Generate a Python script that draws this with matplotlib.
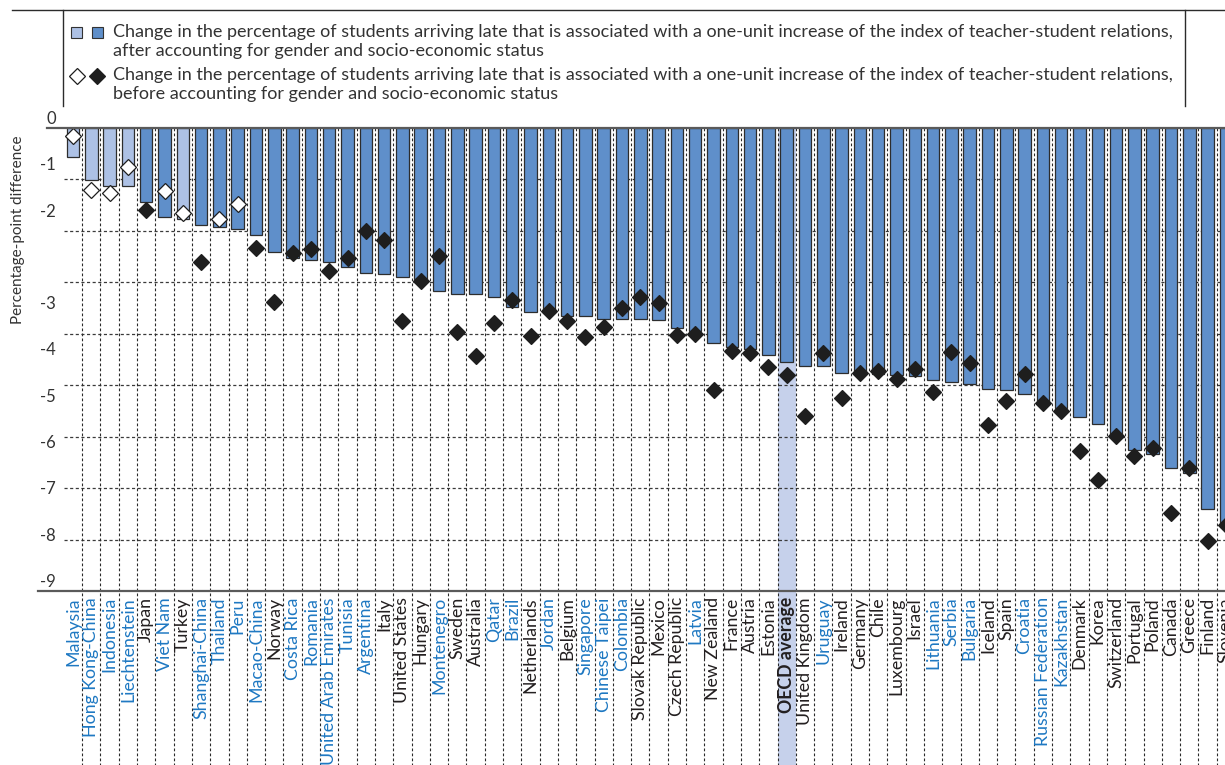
import matplotlib
matplotlib.use("Agg")
import matplotlib.pyplot as plt
import matplotlib.transforms as mtransforms
from matplotlib.lines import Line2D
from matplotlib.patches import Rectangle

plt.rcParams["font.family"] = ["Lato", "DejaVu Sans"]

countries = [
    "Malaysia", "Hong Kong-China", "Indonesia", "Liechtenstein", "Japan", "Viet Nam",
    "Turkey", "Shanghai-China", "Thailand", "Peru", "Macao-China", "Norway",
    "Costa Rica", "Romania", "United Arab Emirates", "Tunisia", "Argentina", "Italy",
    "United States", "Hungary", "Montenegro", "Sweden", "Australia", "Qatar", "Brazil",
    "Netherlands", "Jordan", "Belgium", "Singapore", "Chinese Taipei", "Colombia",
    "Slovak Republic", "Mexico", "Czech Republic", "Latvia", "New Zealand", "France",
    "Austria", "Estonia", "OECD average", "United Kingdom", "Uruguay", "Ireland",
    "Germany", "Chile", "Luxembourg", "Israel", "Lithuania", "Serbia", "Bulgaria",
    "Iceland", "Spain", "Croatia", "Russian Federation", "Kazakhstan", "Denmark",
    "Korea", "Switzerland", "Portugal", "Poland", "Canada", "Greece", "Finland",
    "Slovenia",
]

# Percentage-point change, after accounting for gender and socio-economic status
after_values = [
    -0.57, -1.02, -1.13, -1.13, -1.43, -1.73, -1.77, -1.88, -1.92, -1.96, -2.08, -2.41,
    -2.53, -2.56, -2.61, -2.70, -2.82, -2.84, -2.90, -2.93, -3.17, -3.23, -3.23, -3.29,
    -3.48, -3.58, -3.60, -3.65, -3.65, -3.71, -3.71, -3.71, -3.74, -3.89, -3.95, -4.18,
    -4.26, -4.29, -4.41, -4.54, -4.62, -4.63, -4.76, -4.78, -4.79, -4.81, -4.83, -4.89,
    -4.93, -4.97, -5.07, -5.10, -5.18, -5.30, -5.44, -5.61, -5.75, -5.97, -6.25, -6.34,
    -6.61, -6.70, -7.41, -7.75,
]

# Percentage-point change, before accounting for gender and socio-economic status
before_values = [
    -0.15, -1.20, -1.26, -0.76, -1.60, -1.23, -1.65, -2.61, -1.77, -1.47, -2.33, -3.38,
    -2.43, -2.36, -2.77, -2.53, -2.01, -2.17, -3.76, -2.98, -2.48, -3.97, -4.43, -3.79,
    -3.34, -4.05, -3.55, -3.76, -4.06, -3.86, -3.49, -3.29, -3.40, -4.03, -4.00, -5.09,
    -4.34, -4.37, -4.65, -4.80, -5.59, -4.37, -5.24, -4.76, -4.73, -4.88, -4.68, -5.14,
    -4.36, -4.56, -5.77, -5.30, -4.78, -5.35, -5.51, -6.27, -6.84, -5.98, -6.37, -6.22,
    -7.49, -6.60, -8.03, -7.72,
]

# Estimates that are not statistically significant (lighter / hollow marks)
not_significant_after = ["Malaysia", "Hong Kong-China", "Indonesia", "Liechtenstein", "Turkey"]
not_significant_before = ["Malaysia", "Hong Kong-China", "Indonesia", "Liechtenstein",
                          "Viet Nam", "Turkey", "Thailand", "Peru"]

partner_economies = [
    "Malaysia", "Hong Kong-China", "Indonesia", "Liechtenstein", "Viet Nam",
    "Shanghai-China", "Thailand", "Peru", "Macao-China", "Costa Rica", "Romania",
    "United Arab Emirates", "Tunisia", "Argentina", "Montenegro", "Qatar", "Brazil",
    "Jordan", "Singapore", "Chinese Taipei", "Colombia", "Latvia", "Uruguay",
    "Lithuania", "Serbia", "Bulgaria", "Croatia", "Russian Federation", "Kazakhstan",
]

y_tick_labels = ["0", "-1", "-2", "-3", "-4", "-5", "-6", "-7", "-8", "-9"]

legend_after = ("Change in the percentage of students arriving late that is associated with a "
                "one-unit increase of the index of teacher-student relations,\n"
                "after accounting for gender and socio-economic status")
legend_before = ("Change in the percentage of students arriving late that is associated with a "
                 "one-unit increase of the index of teacher-student relations,\n"
                 "before accounting for gender and socio-economic status")

# ---------------------------------------------------------------- styling
DARK_BAR = "#5F8FCA"
LIGHT_BAR = "#ADC1E5"
HIGHLIGHT = "#C6D1EB"
BLUE_TEXT = "#1E78C2"
BLACK_TEXT = "#231F20"
LINE = "#2B2B2B"

W, H = 1225, 765
fig = plt.figure(figsize=(W / 100, H / 100), dpi=100)


def fx(px):
    return px / W


def fy(py):
    return 1 - py / H


ax_left, ax_right, ax_top, ax_bottom = 38, 1225, 128, 591
ax = fig.add_axes([fx(ax_left), fy(ax_bottom), fx(ax_right - ax_left),
                   (ax_bottom - ax_top) / H])

slot = 18.3
first_center = 73
x_pos = list(range(len(countries)))
ax.set_xlim((ax_left - first_center) / slot, (ax_right - first_center) / slot)
ax.set_ylim(-9, 0)
ax.axis("off")

blend = mtransforms.blended_transform_factory(ax.transData, ax.transAxes)
bottom_frac = -(H - ax_bottom) / (ax_bottom - ax_top)

# OECD average highlight band, running through the label area
oecd_i = countries.index("OECD average")
ax.add_patch(Rectangle((oecd_i - 0.5, bottom_frac), 1.0, 1 - bottom_frac,
                       transform=blend, facecolor=HIGHLIGHT, edgecolor="none",
                       clip_on=False, zorder=0))

# horizontal dashed gridlines
for v in range(-8, 0):
    ax.plot([-0.5, len(countries) + 1], [v, v], color="#3a3a3a", lw=0.9,
            dashes=(2.5, 2), zorder=1)

# vertical dashed separators between countries
for i in range(len(countries) - 1):
    ax.plot([i + 0.5, i + 0.5], [1, bottom_frac], transform=blend, color="#2a2a2a",
            lw=0.8, dashes=(2.5, 2), clip_on=False, zorder=1)

# bars
bar_colors = [LIGHT_BAR if c in not_significant_after else DARK_BAR for c in countries]
ax.bar(x_pos, after_values, width=0.68, color=bar_colors, edgecolor="#2d2d2d",
       linewidth=0.9, zorder=3)

# diamonds
for i, c in enumerate(countries):
    hollow = c in not_significant_before
    ax.plot(i, before_values[i], marker="D", markersize=8.2,
            markerfacecolor="white" if hollow else "#1E1E1E",
            markeredgecolor="#1E1E1E", markeredgewidth=0.9, zorder=4, clip_on=False)

# top (zero) and bottom axis lines
ax.plot([-1.4, len(countries) + 1], [0, 0], color="#5a5a5a", lw=1.6, zorder=5,
        clip_on=False)
ax.plot([(ax_left - first_center) / slot, len(countries) + 1], [-9, -9],
        color="#5a5a5a", lw=1.6, zorder=5, clip_on=False)

# y tick labels, evenly stepped down the left margin
label_slots = [0, 1, 2, 4, 5, 6, 7, 8, 9, 10]
for lbl, s in zip(y_tick_labels, label_slots):
    ypx = 119 + 46.3 * s
    fig.text(fx(56), fy(ypx), lbl, ha="right", va="center", fontsize=12,
             color="#333333")

fig.text(fx(18), fy(230), "Percentage-point difference", rotation=90,
         ha="center", va="center", fontsize=11, color="#333333")

# country labels
for i, c in enumerate(countries):
    is_oecd = c == "OECD average"
    ax.text(i, -9.12, c, rotation=90, ha="center", va="top", fontsize=12.8,
            color=BLUE_TEXT if c in partner_economies else BLACK_TEXT,
            fontweight="bold" if is_oecd else "normal", clip_on=False, zorder=6)

# legend frame
fig.add_artist(Line2D([fx(12), fx(W)], [fy(10), fy(10)], color=LINE, lw=1.0))
fig.add_artist(Line2D([fx(63), fx(63)], [fy(10), fy(106)], color=LINE, lw=1.0))
fig.add_artist(Line2D([fx(1185), fx(1185)], [fy(10), fy(106)], color=LINE, lw=1.0))

# legend keys
sq = 11
for x0, col in ((71, LIGHT_BAR), (92, DARK_BAR)):
    fig.add_artist(Rectangle((fx(x0), fy(38)), sq / W, sq / H, facecolor=col,
                             edgecolor="#333333", lw=0.8))
for x0, face in ((77, "white"), (97, "#1E1E1E")):
    fig.add_artist(Line2D([fx(x0)], [fy(76)], marker="D", markersize=8.2,
                          markerfacecolor=face, markeredgecolor="#1E1E1E",
                          markeredgewidth=0.9))

fig.text(fx(113), fy(24), legend_after, ha="left", va="top", fontsize=13,
         color="#333333", linespacing=1.2)
fig.text(fx(113), fy(67), legend_before, ha="left", va="top", fontsize=13,
         color="#333333", linespacing=1.2)

fig.savefig("out.png", dpi=100)
